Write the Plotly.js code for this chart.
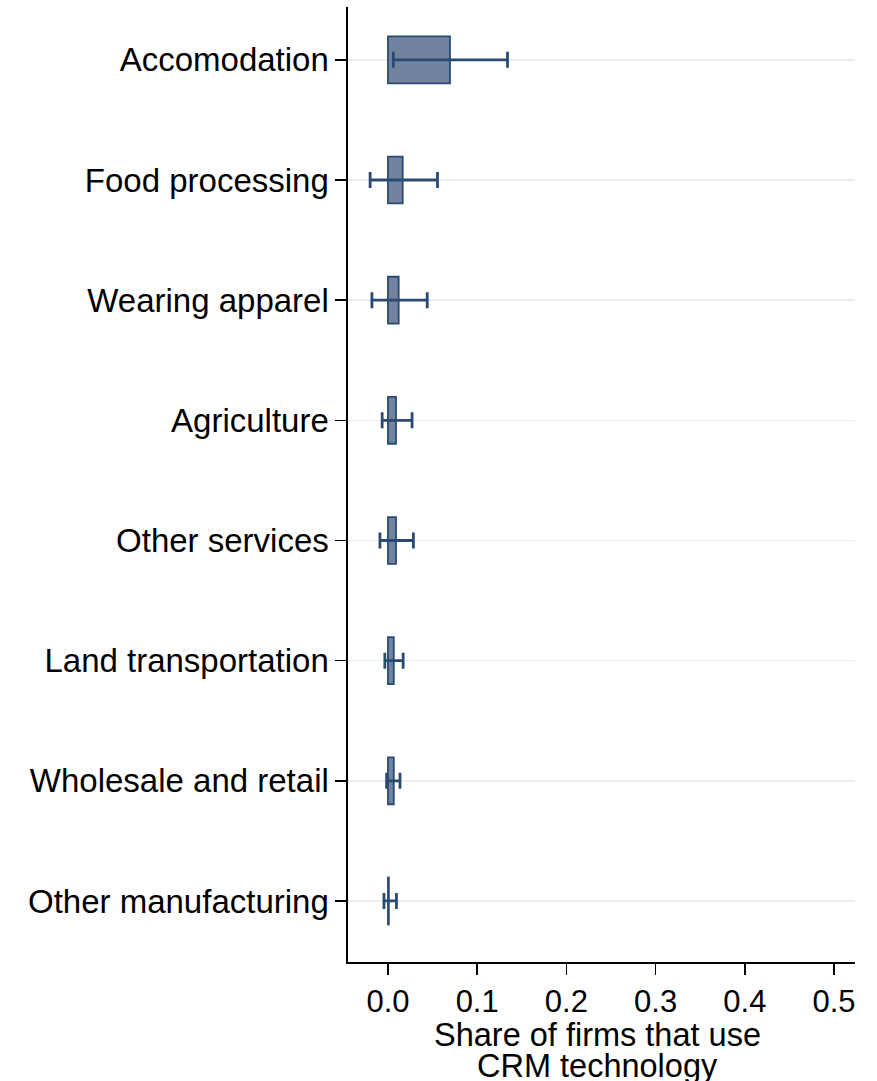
<!DOCTYPE html>
<html>
<head>
<meta charset="utf-8">
<script src="https://cdn.plot.ly/plotly-3.0.1.min.js"></script>
<style>html,body{margin:0;padding:0;background:#fff;}#chart{width:877px;height:1081px;}</style>
</head>
<body>
<div id="chart"></div>
<script>
const categories = ["Accomodation","Food processing","Wearing apparel","Agriculture","Other services","Land transportation","Wholesale and retail","Other manufacturing"];
const shareMean = [0.0695, 0.0165, 0.012, 0.009, 0.009, 0.0065, 0.0065, 0.001];
const ciLow = [0.006, -0.020, -0.018, -0.0065, -0.009, -0.0035, -0.0015, -0.0045];
const ciHigh = [0.134, 0.0555, 0.044, 0.027, 0.0285, 0.017, 0.0135, 0.0095];
const xTickVals = [0, 0.1, 0.2, 0.3, 0.4, 0.5];
const xTickText = ["0.0","0.1","0.2","0.3","0.4","0.5"];
const xTitleLines = ["Share of firms that use", "CRM technology"];

const plus = ciHigh.map((h,i)=>h-shareMean[i]);
const minus = shareMean.map((m,i)=>m-ciLow[i]);

const navy = "#2b4a72";
const trace = {
  type: "bar",
  orientation: "h",
  x: shareMean,
  y: categories,
  width: 0.39,
  marker: {color: "#71839e", line: {color: navy, width: 1.8}},
  error_x: {type: "data", symmetric: false, array: plus, arrayminus: minus,
            color: navy, thickness: 2.8, width: 8},
  hoverinfo: "x+y"
};

const ff = "Liberation Sans, Arial, Helvetica, sans-serif";
const layout = {
  width: 877, height: 1081,
  margin: {l: 348, r: 22, t: 7, b: 119, pad: 0},
  paper_bgcolor: "#fff", plot_bgcolor: "#fff",
  showlegend: false,
  font: {family: ff, size: 31, color: "#000"},
  xaxis: {
    range: [-0.0448, 0.5235],
    tickvals: xTickVals, ticktext: xTickText,
    showgrid: false, zeroline: false,
    showline: true, linecolor: "#000", linewidth: 1.6,
    ticks: "outside", ticklen: 11, tickwidth: 1.6, tickcolor: "#000",
    tickfont: {family: ff, size: 31, color: "#000"},
    fixedrange: true
  },
  yaxis: {
    type: "category",
    categoryarray: categories, categoryorder: "array",
    range: [7.508, -0.44],
    showgrid: true, gridcolor: "#e8eff3", gridwidth: 1.6,
    zeroline: false,
    showline: true, linecolor: "#000", linewidth: 1.6,
    ticks: "outside", ticklen: 11, tickwidth: 1.6, tickcolor: "#000",
    ticklabelstandoff: 0,
    tickfont: {family: ff, size: 33, color: "#000"},
    fixedrange: true
  },
  annotations: [
    {xref: "paper", yref: "paper", x: 0.493, y: -0.0765, xanchor: "center", yanchor: "middle",
     text: xTitleLines[0], showarrow: false, font: {family: ff, size: 32.5, color: "#000"}},
    {xref: "paper", yref: "paper", x: 0.493, y: -0.1085, xanchor: "center", yanchor: "middle",
     text: xTitleLines[1], showarrow: false, font: {family: ff, size: 32.5, color: "#000"}}
  ]
};

Plotly.newPlot("chart", [trace], layout, {displayModeBar: false, staticPlot: true});
</script>
</body>
</html>
